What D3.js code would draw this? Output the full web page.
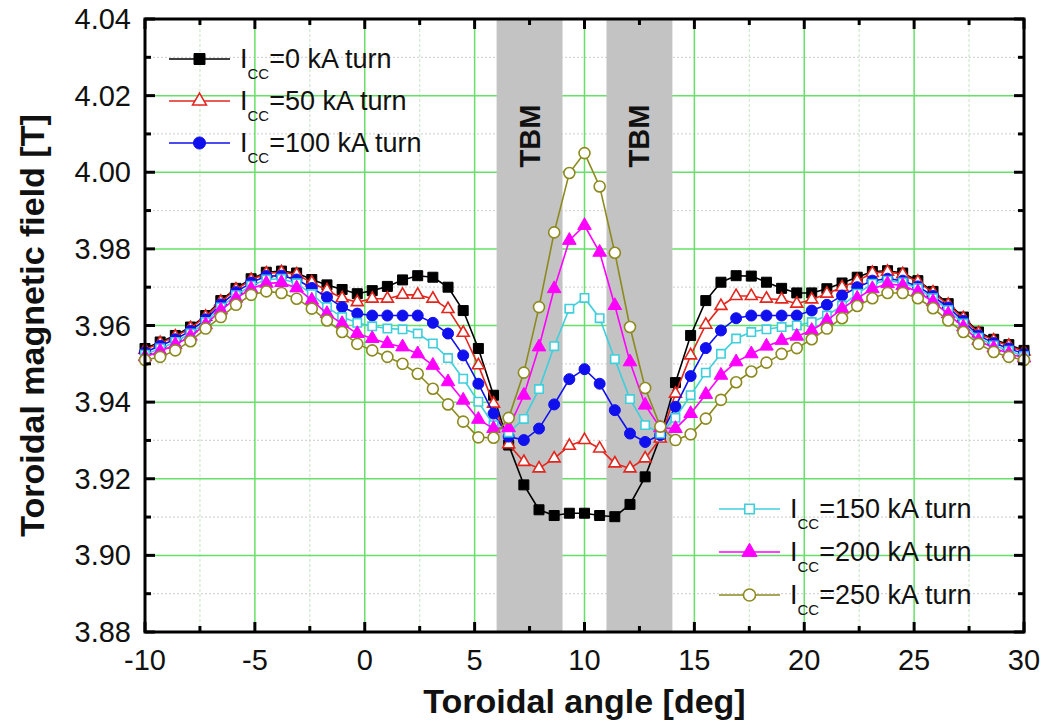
<!DOCTYPE html>
<html>
<head>
<meta charset="utf-8">
<script src="https://cdn.jsdelivr.net/npm/d3@7"></script>
<style>
  html, body { margin: 0; padding: 0; background: #fff; }
  svg { display: block; font-family: "Liberation Sans", Arial, sans-serif; }
</style>
</head>
<body>
<svg id="chart" width="1049" height="723"></svg>
<script>
// Toroidal angle samples [deg]
const angles = [-10.00, -9.31, -8.62, -7.93, -7.24, -6.55, -5.86, -5.17, -4.48, -3.79,
  -3.10, -2.41, -1.72, -1.03, -0.34, 0.34, 1.03, 1.72, 2.41, 3.10,
  3.79, 4.48, 5.17, 5.86, 6.55, 7.24, 7.93, 8.62, 9.31, 10.00,
  10.69, 11.38, 12.07, 12.76, 13.45, 14.14, 14.83, 15.52, 16.21, 16.90,
  17.59, 18.28, 18.97, 19.66, 20.34, 21.03, 21.72, 22.41, 23.10, 23.79,
  24.48, 25.17, 25.86, 26.55, 27.24, 27.93, 28.62, 29.31, 30.00];

// Toroidal magnetic field [T] for each correction-coil current
const bIcc0 = [3.9540, 3.9557, 3.9574, 3.9596, 3.9626, 3.9665, 3.9697, 3.9722, 3.9739, 3.9742,
  3.9737, 3.9720, 3.9706, 3.9694, 3.9683, 3.9691, 3.9702, 3.9719, 3.9730, 3.9726,
  3.9700, 3.9639, 3.9540, 3.9418, 3.9288, 3.9184, 3.9119, 3.9104, 3.9110, 3.9110,
  3.9104, 3.9101, 3.9133, 3.9205, 3.9310, 3.9451, 3.9574, 3.9665, 3.9713, 3.9730,
  3.9729, 3.9713, 3.9697, 3.9685, 3.9685, 3.9696, 3.9711, 3.9726, 3.9741, 3.9743,
  3.9737, 3.9717, 3.9689, 3.9657, 3.9622, 3.9583, 3.9564, 3.9550, 3.9535];
const bIcc50 = [3.9537, 3.9554, 3.9571, 3.9593, 3.9623, 3.9662, 3.9694, 3.9719, 3.9736, 3.9739,
  3.9733, 3.9712, 3.9692, 3.9671, 3.9661, 3.9670, 3.9670, 3.9680, 3.9680, 3.9670,
  3.9643, 3.9581, 3.9496, 3.9396, 3.9290, 3.9244, 3.9227, 3.9253, 3.9286, 3.9301,
  3.9279, 3.9240, 3.9227, 3.9253, 3.9305, 3.9422, 3.9522, 3.9602, 3.9651, 3.9677,
  3.9677, 3.9670, 3.9668, 3.9657, 3.9668, 3.9683, 3.9700, 3.9717, 3.9737, 3.9740,
  3.9734, 3.9714, 3.9686, 3.9654, 3.9619, 3.9580, 3.9561, 3.9547, 3.9532];
const bIcc100 = [3.9530, 3.9547, 3.9564, 3.9586, 3.9616, 3.9655, 3.9687, 3.9712, 3.9729, 3.9730,
  3.9720, 3.9698, 3.9674, 3.9648, 3.9631, 3.9626, 3.9626, 3.9626, 3.9626, 3.9607,
  3.9579, 3.9522, 3.9448, 3.9370, 3.9310, 3.9301, 3.9331, 3.9394, 3.9460, 3.9486,
  3.9448, 3.9379, 3.9318, 3.9296, 3.9314, 3.9388, 3.9468, 3.9541, 3.9587, 3.9619,
  3.9626, 3.9626, 3.9626, 3.9626, 3.9639, 3.9654, 3.9678, 3.9700, 3.9717, 3.9722,
  3.9717, 3.9702, 3.9677, 3.9647, 3.9612, 3.9574, 3.9554, 3.9540, 3.9526];
const bIcc150 = [3.9524, 3.9540, 3.9557, 3.9579, 3.9609, 3.9647, 3.9679, 3.9704, 3.9720, 3.9722,
  3.9710, 3.9682, 3.9648, 3.9622, 3.9607, 3.9598, 3.9592, 3.9590, 3.9579, 3.9553,
  3.9515, 3.9461, 3.9401, 3.9340, 3.9321, 3.9356, 3.9434, 3.9546, 3.9644, 3.9672,
  3.9619, 3.9512, 3.9408, 3.9340, 3.9318, 3.9359, 3.9418, 3.9477, 3.9526, 3.9566,
  3.9583, 3.9590, 3.9596, 3.9600, 3.9609, 3.9626, 3.9652, 3.9683, 3.9709, 3.9717,
  3.9712, 3.9697, 3.9671, 3.9640, 3.9605, 3.9568, 3.9548, 3.9534, 3.9520];
const bIcc200 = [3.9518, 3.9533, 3.9550, 3.9572, 3.9602, 3.9640, 3.9671, 3.9696, 3.9710, 3.9712,
  3.9698, 3.9666, 3.9631, 3.9605, 3.9579, 3.9566, 3.9553, 3.9544, 3.9526, 3.9496,
  3.9453, 3.9405, 3.9355, 3.9331, 3.9333, 3.9418, 3.9544, 3.9696, 3.9822, 3.9861,
  3.9791, 3.9652, 3.9505, 3.9392, 3.9333, 3.9331, 3.9370, 3.9420, 3.9470, 3.9505,
  3.9526, 3.9546, 3.9561, 3.9572, 3.9587, 3.9613, 3.9644, 3.9671, 3.9696, 3.9709,
  3.9704, 3.9688, 3.9662, 3.9630, 3.9596, 3.9561, 3.9541, 3.9527, 3.9515];
const bIcc250 = [3.9510, 3.9518, 3.9535, 3.9559, 3.9592, 3.9622, 3.9654, 3.9680, 3.9689, 3.9685,
  3.9670, 3.9644, 3.9613, 3.9583, 3.9552, 3.9535, 3.9518, 3.9500, 3.9474, 3.9435,
  3.9394, 3.9349, 3.9308, 3.9307, 3.9359, 3.9477, 3.9648, 3.9843, 3.9998, 4.0050,
  3.9963, 3.9790, 3.9596, 3.9437, 3.9336, 3.9301, 3.9316, 3.9357, 3.9406, 3.9452,
  3.9480, 3.9503, 3.9526, 3.9541, 3.9564, 3.9592, 3.9619, 3.9651, 3.9671, 3.9685,
  3.9685, 3.9671, 3.9645, 3.9613, 3.9583, 3.9552, 3.9531, 3.9518, 3.9510];

// Correction-coil currents [kA turn] labelling each curve
const currents = [0, 50, 100, 150, 200, 250];

// Shaded TBM port regions [deg]
const tbmRanges = [[6, 9], [11, 14]];

// Axis ticks
const xMajorTicks = [-10, -5, 0, 5, 10, 15, 20, 25, 30];
const xMinorTicks = [-7.5, -2.5, 2.5, 7.5, 12.5, 17.5, 22.5, 27.5];
const yMajorTicks = [3.88, 3.90, 3.92, 3.94, 3.96, 3.98, 4.00, 4.02, 4.04];
const yMinorTicks = [3.89, 3.91, 3.93, 3.95, 3.97, 3.99, 4.01, 4.03];

const seriesValues = [bIcc0, bIcc50, bIcc100, bIcc150, bIcc200, bIcc250];
const styles = [
  { color: "#000000", symbol: d3.symbolSquare, size: 100, fill: true },
  { color: "#e3261e", symbol: d3.symbolTriangle, size: 62, fill: false },
  { color: "#1010ee", symbol: d3.symbolCircle, size: 95, fill: true },
  { color: "#3fcfdc", symbol: d3.symbolSquare, size: 70, fill: false },
  { color: "#ff00ff", symbol: d3.symbolTriangle, size: 80, fill: true },
  { color: "#8c8a1e", symbol: d3.symbolCircle, size: 95, fill: false }
];

const svg = d3.select("#chart");
const plotLeft = 145, plotRight = 1024, plotTop = 19, plotBottom = 632;

const x = d3.scaleLinear().domain([-10, 30]).range([plotLeft, plotRight]);
const y = d3.scaleLinear().domain([3.88, 4.04]).range([plotBottom, plotTop]);

// Minor grid
const grid = svg.append("g");
grid.selectAll(".vmin").data(xMinorTicks).enter().append("line")
  .attr("x1", d => x(d)).attr("x2", d => x(d)).attr("y1", plotTop).attr("y2", plotBottom)
  .attr("stroke", "#cfe9cf").attr("stroke-width", 1.2).attr("stroke-dasharray", "3,2");
grid.selectAll(".hmin").data(yMinorTicks).enter().append("line")
  .attr("x1", plotLeft).attr("x2", plotRight).attr("y1", d => y(d)).attr("y2", d => y(d))
  .attr("stroke", "#d6d6d6").attr("stroke-width", 1.2).attr("stroke-dasharray", "2,2");
// Major grid
grid.selectAll(".vmaj").data(xMajorTicks).enter().append("line")
  .attr("x1", d => x(d)).attr("x2", d => x(d)).attr("y1", plotTop).attr("y2", plotBottom)
  .attr("stroke", "#66e066").attr("stroke-width", 1.5);
grid.selectAll(".hmaj").data(yMajorTicks).enter().append("line")
  .attr("x1", plotLeft).attr("x2", plotRight).attr("y1", d => y(d)).attr("y2", d => y(d))
  .attr("stroke", "#66e066").attr("stroke-width", 1.5);

// TBM bands
svg.append("g").selectAll("rect").data(tbmRanges).enter().append("rect")
  .attr("x", d => x(d[0])).attr("width", d => x(d[1]) - x(d[0]))
  .attr("y", plotTop).attr("height", plotBottom - plotTop)
  .attr("fill", "#c3c3c3");
svg.append("g").selectAll("text").data(tbmRanges).enter().append("text")
  .attr("transform", d => `translate(${x((d[0] + d[1]) / 2) + 10},${136}) rotate(-90)`)
  .attr("text-anchor", "middle")
  .attr("font-size", 29).attr("font-weight", "bold").attr("fill", "#111")
  .text("TBM");

// Curves
const line = d3.line().x(d => x(d[0])).y(d => y(d[1]));
const curves = svg.append("g");
seriesValues.forEach((vals, i) => {
  const st = styles[i];
  const pts = angles.map((a, j) => [a, vals[j]]);
  curves.append("path").datum(pts)
    .attr("d", line).attr("fill", "none")
    .attr("stroke", st.color).attr("stroke-width", 1.6);
  curves.append("g").selectAll("path").data(pts).enter().append("path")
    .attr("transform", d => `translate(${x(d[0])},${y(d[1])})`)
    .attr("d", d3.symbol().type(st.symbol).size(st.size))
    .attr("fill", st.fill ? st.color : "#fff")
    .attr("stroke", st.color).attr("stroke-width", st.fill ? 1 : 1.6);
});

// Frame
svg.append("rect").attr("x", plotLeft).attr("y", plotTop)
  .attr("width", plotRight - plotLeft).attr("height", plotBottom - plotTop)
  .attr("fill", "none").attr("stroke", "#000").attr("stroke-width", 3);

// Ticks (pointing inward on all four sides)
const ticks = svg.append("g").attr("stroke", "#000").attr("stroke-width", 3);
const tickX = (vals, len) => {
  vals.forEach(v => {
    ticks.append("line").attr("x1", x(v)).attr("x2", x(v)).attr("y1", plotBottom).attr("y2", plotBottom - len);
    ticks.append("line").attr("x1", x(v)).attr("x2", x(v)).attr("y1", plotTop).attr("y2", plotTop + len);
  });
};
const tickY = (vals, len) => {
  vals.forEach(v => {
    ticks.append("line").attr("y1", y(v)).attr("y2", y(v)).attr("x1", plotLeft).attr("x2", plotLeft + len);
    ticks.append("line").attr("y1", y(v)).attr("y2", y(v)).attr("x1", plotRight).attr("x2", plotRight - len);
  });
};
tickX(xMajorTicks, 10); tickX(xMinorTicks, 6);
tickY(yMajorTicks, 10); tickY(yMinorTicks, 6);

// Tick labels
svg.append("g").selectAll("text").data(xMajorTicks).enter().append("text")
  .attr("x", d => x(d)).attr("y", 670).attr("text-anchor", "middle")
  .attr("font-size", 29).attr("fill", "#111").text(d => d);
svg.append("g").selectAll("text").data(yMajorTicks).enter().append("text")
  .attr("x", 131).attr("y", d => y(d) + 10).attr("text-anchor", "end")
  .attr("font-size", 29).attr("fill", "#111").text(d => d.toFixed(2));

// Axis titles
svg.append("text").attr("x", (plotLeft + plotRight) / 2).attr("y", 713)
  .attr("text-anchor", "middle").attr("font-size", 34).attr("font-weight", "bold")
  .attr("fill", "#111").text("Toroidal angle [deg]");
svg.append("text").attr("transform", `translate(44,${(plotTop + plotBottom) / 2}) rotate(-90)`)
  .attr("text-anchor", "middle").attr("font-size", 34).attr("font-weight", "bold")
  .attr("fill", "#111").text("Toroidal magnetic field [T]");

// Legends
function legendRow(g, st, cur, lx, ly) {
  g.append("line").attr("x1", lx).attr("x2", lx + 61).attr("y1", ly).attr("y2", ly)
    .attr("stroke", st.color).attr("stroke-width", 1.6);
  g.append("path").attr("transform", `translate(${lx + 30.5},${ly})`)
    .attr("d", d3.symbol().type(st.symbol).size(st.size + 20))
    .attr("fill", st.fill ? st.color : "#fff")
    .attr("stroke", st.color).attr("stroke-width", st.fill ? 1 : 1.6);
  const t = g.append("text").attr("x", lx + 71).attr("y", ly + 9)
    .attr("font-size", 27).attr("fill", "#111");
  t.append("tspan").text("I");
  t.append("tspan").attr("font-size", 15).attr("dy", 11).text("CC");
  t.append("tspan").attr("dy", -11).text(`=${cur} kA turn`);
}
const legendA = svg.append("g");
[0, 1, 2].forEach((i, r) => legendRow(legendA, styles[i], currents[i], 169, 59 + r * 42));
const legendB = svg.append("g");
[3, 4, 5].forEach((i, r) => legendRow(legendB, styles[i], currents[i], 719, 509 + r * 43));
</script>
</body>
</html>
